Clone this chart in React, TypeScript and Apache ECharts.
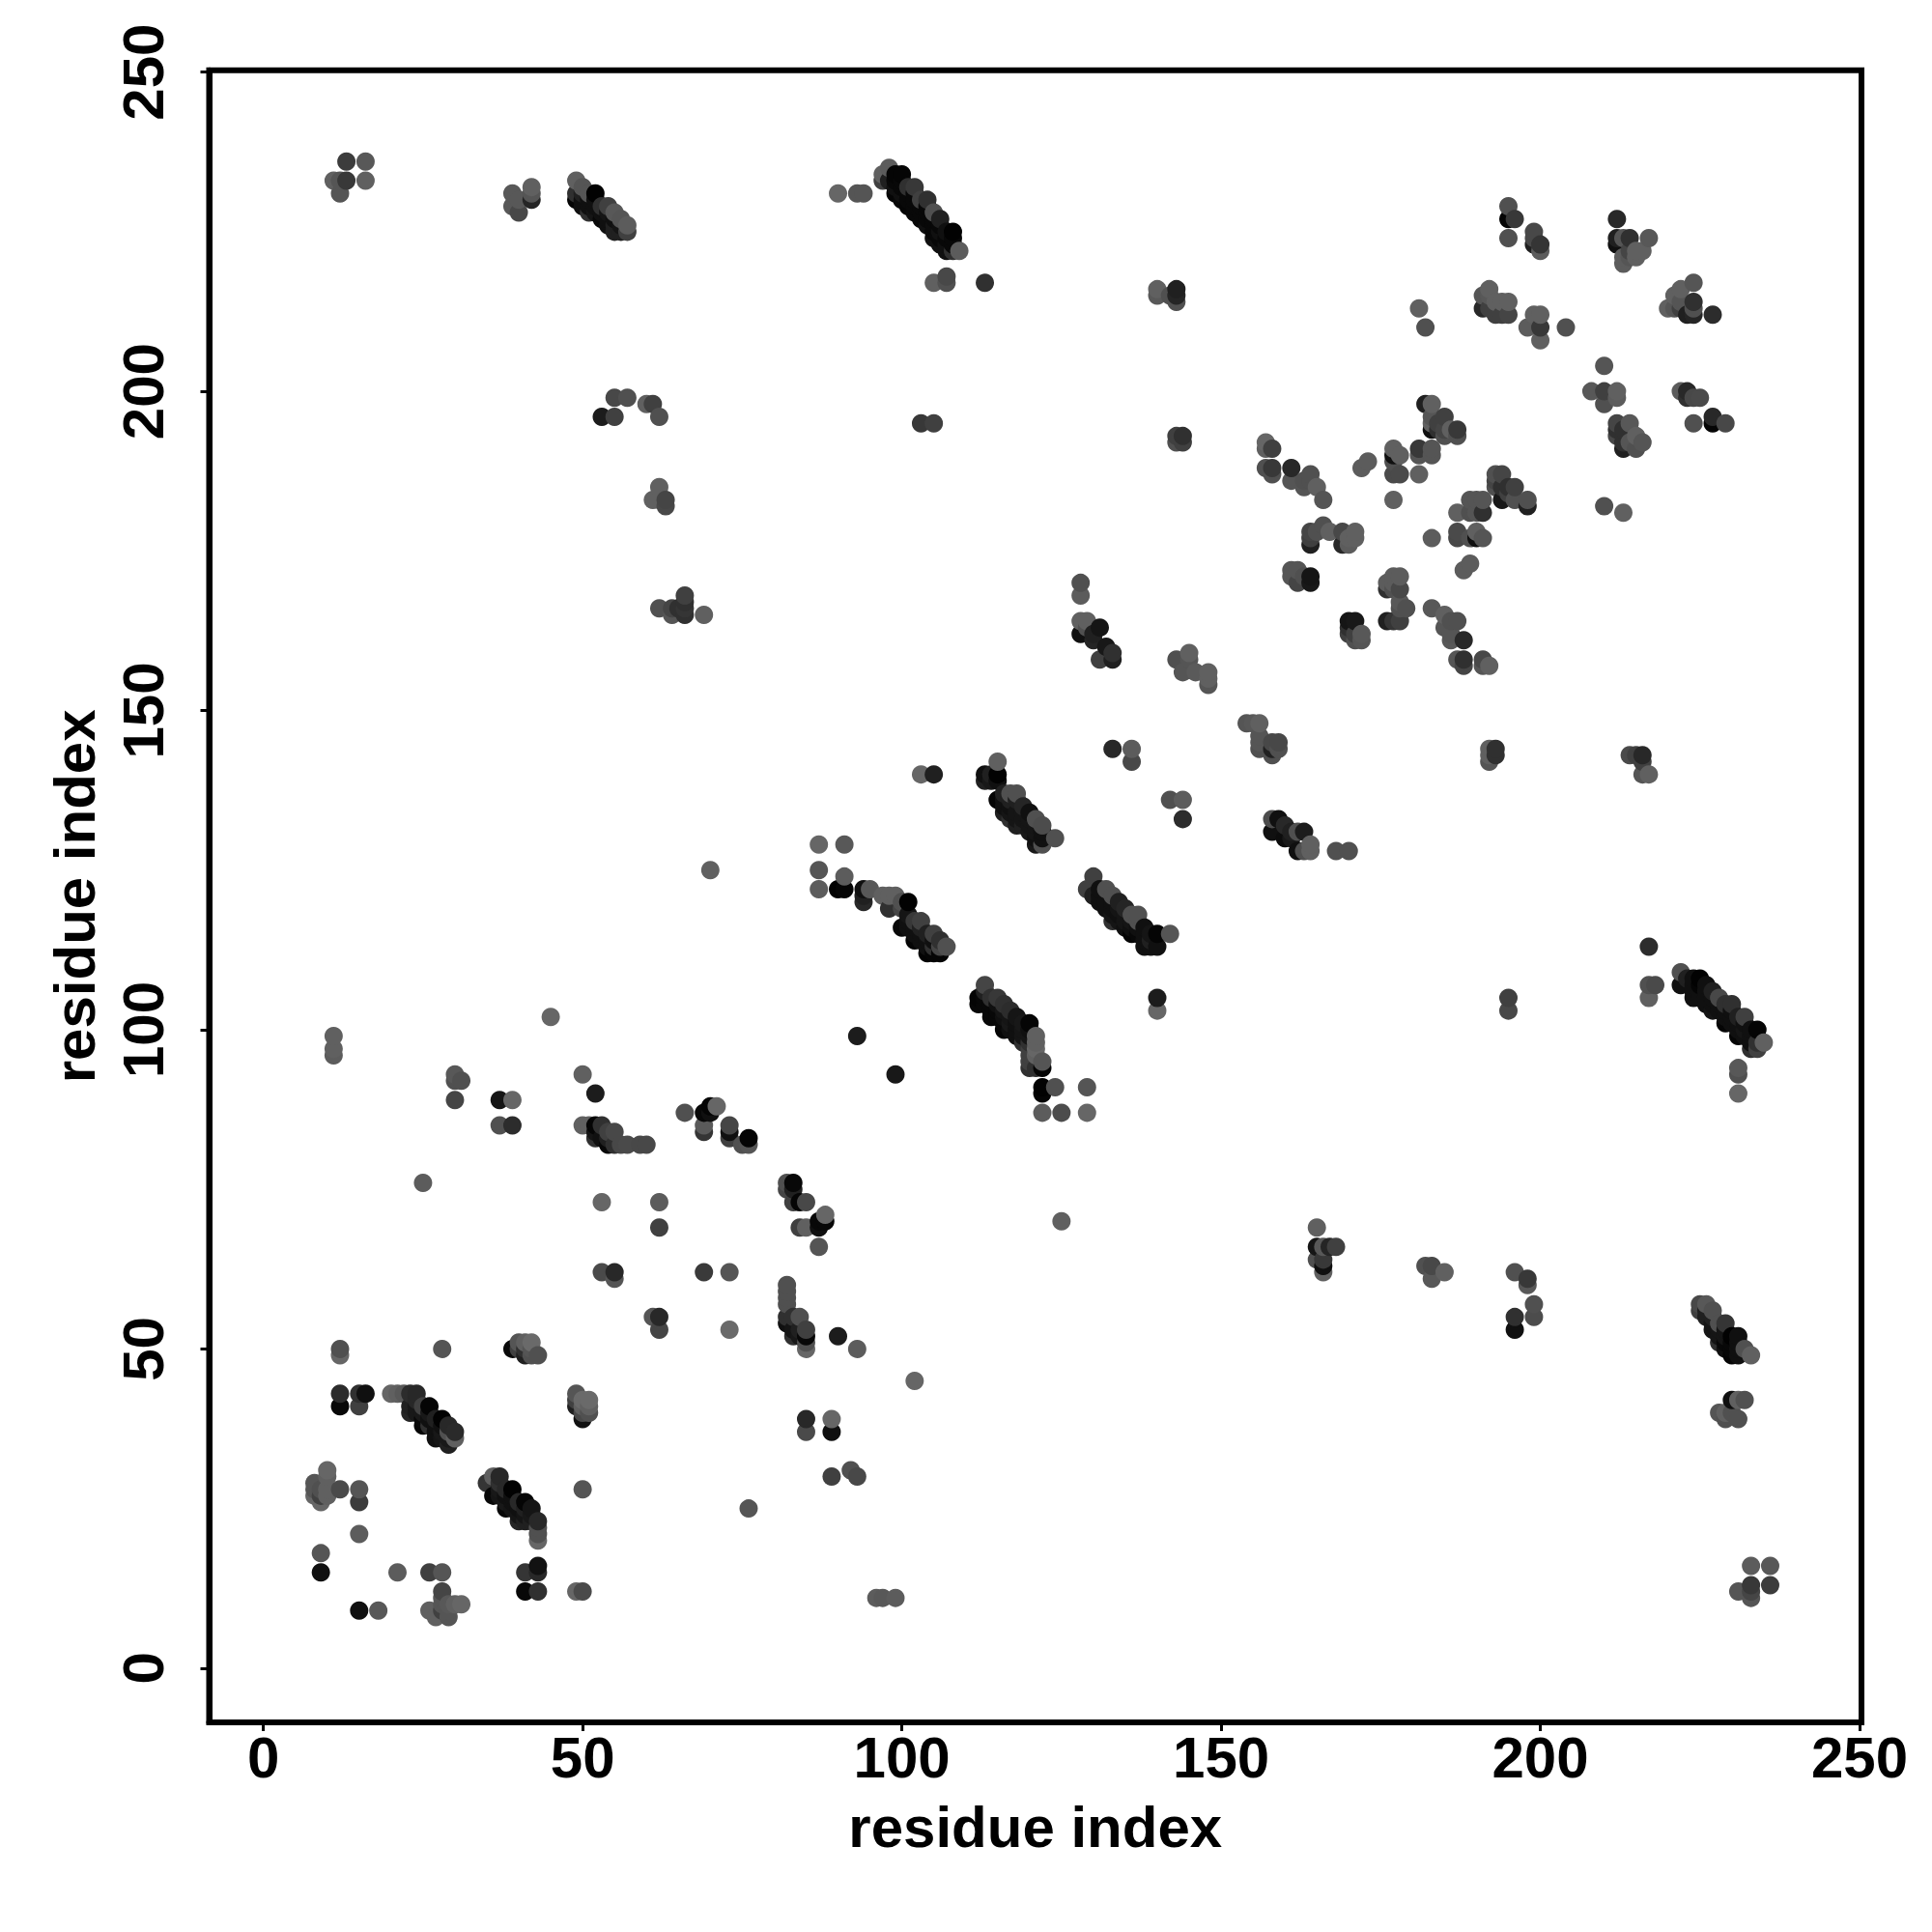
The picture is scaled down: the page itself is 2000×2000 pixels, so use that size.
import React, { useEffect, useRef } from "react";
import * as echarts from "echarts";

type P = [number, number, number];
const tickValues = [0, 50, 100, 150, 200, 250];
const axisTitle = "residue index";

const lowerLeft: P[] = [
[53,62,0x4a],[55,62,0x28],[55,61,0x55],[69,62,0x3a],[73,62,0x55],[61,55,0x55],[62,55,0x28],[62,53,0x45],[73,53,0x6a],
[12,50,0x50],[12,49,0x66],[28,50,0x55],[39,50,0x0a],[40,51,0x55],[41,51,0x60],[42,51,0x6a],[41,49,0x20],[43,49,0x50],[42,49,0x50],[40,50,0x40],[41,50,0x30],[42,50,0x55],
[12,43,0x2c],[15,43,0x30],[16,43,0x10],[12,41,0x08],[15,41,0x40],[20,43,0x66],[21,43,0x60],[22,43,0x58],[23,43,0x2c],[24,43,0x28],
[23,41,0x20],[23,40,0x25],[25,41,0x40],[26,41,0x05],[25,38,0x05],[27,39,0x20],[28,39,0x02],[27,36,0x10],[29,35,0x20],[30,37,0x2a],[30,36,0x60],[29,37,0x50],[24,40,0x18],[26,39,0x10],[26,38,0x30],[28,37,0x18],[28,36,0x15],[29,36,0x18],
[49,43,0x55],[49,41,0x20],[50,39,0x10],[50,42,0x6a],[51,42,0x6a],[51,40,0x50],[50,40,0x48],[49,42,0x40],[51,41,0x60],[50,41,0x60],
[10,31,0x66],[8,29,0x55],[10,30,0x60],[8,27,0x66],[9,26,0x66],[9,28,0x50],[12,28,0x4a],[10,28,0x60],[15,28,0x55],[15,26,0x3c],[8,28,0x55],[9,27,0x40],[10,27,0x60],
[15,21,0x5c],[9,18,0x55],[9,15,0x10],[21,15,0x5c],[26,15,0x40],[28,15,0x55],[28,12,0x45],[15,9,0x10],[18,9,0x58],[26,9,0x60],[27,8,0x60],[29,8,0x55],[30,10,0x60],[31,10,0x66],[28,10,0x55],[29,10,0x58],[28,11,0x55],[28,9,0x40],[29,9,0x55],
[35,29,0x35],[36,30,0x60],[37,30,0x28],[36,27,0x08],[37,29,0x30],[39,28,0x02],[38,28,0x28],[38,25,0x08],[37,27,0x15],[38,26,0x18],[40,26,0x28],[41,26,0x05],[40,23,0x25],[39,25,0x15],[41,23,0x20],[43,23,0x28],[43,22,0x50],[43,21,0x50],[43,20,0x66],[41,25,0x20],
[50,28,0x55],[76,25,0x55],[41,15,0x35],[43,16,0x12],[43,15,0x28],[41,12,0x08],[43,12,0x30],[49,12,0x66],[50,12,0x4a],
[89,30,0x40],[92,31,0x50],[93,30,0x48],[96,11,0x5c],[97,11,0x58],[99,11,0x5c],
];

const lowerMid: P[] = [
[45,102,0x66],[93,99,0x1c],[99,93,0x18],[50,93,0x60],[52,90,0x1c],[39,89,0x66],[37,89,0x15],[39,85,0x2c],[37,85,0x50],
[66,87,0x50],[69,87,0x08],[70,88,0x05],[71,88,0x66],[69,85,0x5a],[69,84,0x35],[73,85,0x45],[73,83,0x40],[73,84,0x10],[75,82,0x50],[76,83,0x05],[76,82,0x55],[70,87,0x10],
[50,85,0x60],[51,85,0x60],[52,85,0x05],[53,85,0x30],[52,83,0x30],[52,84,0x15],[54,84,0x40],[55,84,0x48],[54,82,0x08],[55,82,0x30],[53,83,0x10],[57,82,0x4a],[56,82,0x48],[59,82,0x48],[60,82,0x48],[54,83,0x20],
[82,76,0x50],[83,76,0x08],[82,75,0x45],[83,75,0x20],[83,73,0x40],[84,73,0x05],[85,73,0x48],[53,73,0x66],[62,73,0x5c],[62,69,0x40],
[84,69,0x40],[85,69,0x60],[87,69,0x10],[88,71,0x66],[88,70,0x08],[87,70,0x08],[87,66,0x55],
[82,60,0x50],[82,59,0x50],[82,58,0x50],[82,57,0x50],[82,55,0x30],[82,54,0x10],[84,55,0x50],[83,55,0x30],[83,52,0x30],[85,53,0x40],[85,52,0x08],[85,51,0x50],[85,50,0x66],[84,53,0x20],[83,53,0x15],[84,52,0x18],
[90,52,0x1c],[93,50,0x5c],[102,45,0x66],[85,39,0x28],[85,37,0x4a],[89,39,0x66],[89,37,0x10],
[11,99,0x60],[11,97,0x60],[11,96,0x5c],[25,76,0x5c],[30,93,0x58],[31,92,0x50],[30,89,0x45],[30,92,0x50],
];

const centre: P[] = [
[103,140,0x66],[105,140,0x20],[115,142,0x60],[113,140,0x10],[115,140,0x02],[113,139,0x20],[114,140,0x20],[114,139,0x18],[115,139,0x10],[115,136,0x05],[117,137,0x50],[118,137,0x50],[116,137,0x20],[117,136,0x20],[119,135,0x25],[117,133,0x30],[118,134,0x15],[120,134,0x10],[121,133,0x50],[122,132,0x4c],[119,132,0x20],[120,131,0x18],[121,130,0x10],[122,129,0x50],[124,130,0x50],[122,131,0x10],[122,130,0x10],[116,136,0x10],
[133,144,0x28],[136,144,0x5c],[136,142,0x48],[142,136,0x50],[144,136,0x5c],[144,133,0x2c],
[87,129,0x66],[91,129,0x58],[87,125,0x55],[91,124,0x5c],[87,122,0x5c],[90,122,0x02],[91,122,0x05],
[94,122,0x10],[95,122,0x58],[94,120,0x28],[94,121,0x20],[97,121,0x60],[99,121,0x60],[98,121,0x60],[98,119,0x30],[100,120,0x50],[101,120,0x02],[100,119,0x45],[100,116,0x08],[101,117,0x10],[102,117,0x38],[103,117,0x40],[102,114,0x05],[103,115,0x10],[105,115,0x40],[104,115,0x20],[104,112,0x03],[106,112,0x05],[106,113,0x45],[107,113,0x50],[105,112,0x05],[105,113,0x30],
[130,124,0x40],[129,122,0x40],[131,122,0x10],[132,122,0x50],[133,121,0x50],[130,121,0x20],[131,120,0x10],[132,119,0x10],[133,117,0x30],[135,119,0x25],[134,118,0x10],[136,118,0x50],[137,118,0x50],[137,117,0x50],[136,115,0x05],[137,115,0x08],[135,117,0x15],[135,116,0x10],[139,113,0x10],[140,113,0x10],[139,114,0x20],[140,115,0x05],[142,115,0x55],
[140,105,0x1c],[140,103,0x66],
[113,107,0x45],[112,105,0x05],[112,104,0x08],[114,103,0x08],[115,105,0x38],[114,105,0x30],[114,102,0x08],[116,100,0x05],[117,103,0x2c],[117,101,0x18],[117,100,0x10],[116,102,0x10],[119,98,0x30],[120,101,0x05],[121,99,0x60],[121,98,0x60],[121,97,0x66],[121,96,0x60],[122,95,0x55],[120,94,0x30],[122,94,0x05],[121,94,0x30],[122,91,0x02],[122,90,0x05],[124,91,0x50],[129,91,0x55],[122,87,0x5c],[125,87,0x4c],[129,87,0x66],[125,70,0x60],[70,125,0x60],
];

const upperCluster: P[] = [
[157,192,0x66],[157,191,0x60],[158,191,0x40],[157,188,0x50],[158,188,0x38],[158,187,0x50],[161,188,0x28],[161,186,0x55],[164,187,0x50],[163,186,0x50],[163,185,0x55],[165,185,0x60],[166,183,0x55],[164,186,0x50],
[173,189,0x5c],[172,188,0x5c],[177,191,0x60],[178,190,0x60],[177,190,0x10],[177,189,0x50],[177,187,0x4a],[178,187,0x4a],[181,187,0x60],[177,183,0x60],[181,191,0x38],[181,190,0x55],[183,190,0x55],[183,191,0x55],
[182,198,0x20],[183,198,0x60],[183,196,0x55],[185,196,0x40],[183,194,0x10],[185,194,0x45],[186,194,0x60],[187,194,0x38],[187,193,0x50],[185,193,0x50],[184,195,0x40],[183,195,0x60],[184,194,0x30],
[164,178,0x45],[164,177,0x40],[164,176,0x20],[166,179,0x50],[165,178,0x50],[167,178,0x60],[169,178,0x48],[169,176,0x28],[170,176,0x5c],[171,178,0x60],[171,177,0x60],[170,177,0x60],
[161,172,0x55],[162,172,0x55],[161,171,0x55],[162,170,0x45],[164,171,0x15],[164,170,0x18],[163,171,0x50],
[183,177,0x5c],[187,178,0x4a],[187,177,0x48],[190,178,0x60],[191,177,0x55],[190,177,0x10],[189,177,0x50],[187,181,0x60],[190,181,0x55],[191,181,0x30],[190,183,0x55],[191,183,0x55],[189,183,0x55],[189,181,0x50],
[194,187,0x45],[193,187,0x50],[193,185,0x50],[194,183,0x18],[195,185,0x30],[196,185,0x40],[196,183,0x50],[198,183,0x50],[198,182,0x20],[193,186,0x45],[194,185,0x30],[195,184,0x40],
[189,173,0x5c],[188,172,0x5c],[177,171,0x5c],[178,171,0x5c],[176,170,0x5c],[176,169,0x30],[178,169,0x48],[178,167,0x58],[179,166,0x50],[178,166,0x50],[176,164,0x20],[177,164,0x35],[178,164,0x40],[177,170,0x5c],[177,169,0x50],
[170,164,0x15],[171,164,0x18],[170,163,0x30],[170,162,0x40],[171,162,0x40],[172,162,0x58],[172,161,0x55],[171,161,0x50],
[183,166,0x58],[185,165,0x60],[185,163,0x55],[186,164,0x50],[187,164,0x50],[186,162,0x55],[186,161,0x58],[188,161,0x28],[187,158,0x55],[188,158,0x30],[188,157,0x45],[191,158,0x48],[192,157,0x60],[191,157,0x55],
[210,182,0x50],[213,181,0x60],
[148,156,0x60],[148,154,0x55],[148,155,0x60],[143,158,0x50],[145,159,0x60],[144,156,0x55],[145,158,0x55],[146,156,0x5a],
[154,148,0x55],[155,148,0x58],[156,148,0x60],[156,146,0x55],[156,144,0x50],[158,145,0x48],[159,145,0x48],[159,144,0x50],[158,144,0x20],[158,143,0x50],[156,145,0x55],
[192,144,0x60],[192,143,0x60],[192,142,0x55],[193,144,0x30],[193,143,0x30],[214,143,0x4a],[216,143,0x28],[215,143,0x40],[216,142,0x40],[216,140,0x55],[217,140,0x60],
[158,133,0x4c],[159,133,0x10],[158,131,0x10],[160,132,0x28],[160,130,0x0c],[163,131,0x1c],[162,131,0x50],[161,131,0x20],[162,128,0x10],[163,128,0x50],[164,129,0x60],[164,128,0x60],[161,130,0x18],[168,128,0x50],[170,128,0x50],
[128,170,0x50],[128,168,0x5c],[128,164,0x60],[129,164,0x60],[128,162,0x10],[131,163,0x15],[130,161,0x25],[132,160,0x18],[131,158,0x40],[133,158,0x20],[133,159,0x30],[129,163,0x50],[130,162,0x20],
[62,166,0x50],[64,166,0x45],[64,165,0x55],[66,166,0x35],[66,168,0x40],[66,167,0x30],[66,165,0x30],[65,166,0x30],[69,165,0x60],
[140,216,0x60],[140,215,0x58],[143,216,0x20],[143,215,0x25],[143,214,0x50],[142,215,0x50],[144,193,0x30],[144,192,0x40],[143,192,0x50],[143,193,0x40],
];

const upperRight: P[] = [
[195,229,0x50],[195,227,0x05],[196,227,0x38],[195,224,0x50],[199,225,0x48],[199,224,0x48],[200,223,0x35],[200,222,0x5c],[199,223,0x20],
[212,227,0x28],[212,224,0x20],[212,223,0x10],[213,224,0x55],[214,224,0x30],[217,224,0x58],[213,221,0x5c],[213,220,0x5c],[214,222,0x45],[215,222,0x60],[216,222,0x60],[215,221,0x60],[214,221,0x55],
[224,217,0x55],[222,216,0x60],[221,215,0x60],[220,213,0x60],[221,213,0x55],[224,214,0x30],[224,213,0x50],[223,212,0x20],[224,212,0x25],[227,212,0x2c],[222,214,0x55],[222,213,0x40],
[192,216,0x60],[191,215,0x55],[192,215,0x58],[191,213,0x28],[193,214,0x60],[194,214,0x60],[195,214,0x60],[193,212,0x40],[194,212,0x40],[195,212,0x45],[192,213,0x40],
[199,212,0x60],[200,212,0x60],[200,210,0x38],[198,210,0x5c],[200,208,0x60],[204,210,0x50],[181,213,0x60],[182,210,0x50],
[210,204,0x55],[208,200,0x58],[210,200,0x40],[212,200,0x60],[210,198,0x50],[212,199,0x5c],
[222,200,0x5c],[223,200,0x28],[223,199,0x30],[224,199,0x48],[225,199,0x4a],[224,195,0x50],[227,196,0x28],[227,195,0x05],[229,195,0x48],
[212,195,0x45],[212,194,0x30],[212,193,0x48],[214,195,0x58],[213,192,0x30],[213,191,0x20],[215,193,0x60],[215,191,0x50],[216,192,0x55],[213,194,0x30],[214,192,0x55],
[13,236,0x3c],[16,236,0x58],[11,233,0x60],[12,233,0x55],[13,233,0x38],[16,233,0x60],[12,231,0x55],
[42,232,0x60],[42,231,0x55],[42,230,0x25],[39,231,0x58],[40,230,0x58],[39,229,0x58],[40,228,0x48],
[49,233,0x60],[50,232,0x55],[51,231,0x55],[49,231,0x30],[49,230,0x05],[52,231,0x02],[52,230,0x10],[51,228,0x30],[53,229,0x30],[54,229,0x40],[55,228,0x58],[53,227,0x08],[54,226,0x10],[56,227,0x55],[57,226,0x5c],[56,225,0x20],[57,225,0x40],[55,226,0x20],
[90,231,0x66],[93,231,0x55],[94,231,0x55],
[98,235,0x5c],[97,234,0x60],[97,233,0x40],[99,234,0x05],[100,234,0x05],[98,233,0x20],[99,231,0x05],[99,232,0x10],[102,232,0x38],[101,232,0x30],[101,229,0x05],[100,231,0x10],[104,230,0x30],[103,230,0x40],[105,228,0x50],[103,227,0x08],[106,227,0x20],[104,226,0x10],[108,225,0x02],[105,224,0x10],[107,225,0x10],[107,222,0x10],[109,222,0x5c],[108,222,0x30],[106,225,0x10],[106,223,0x10],[107,223,0x10],
[105,217,0x60],[107,218,0x48],[107,217,0x50],[113,217,0x30],
[55,199,0x48],[57,199,0x50],[53,196,0x1c],[55,196,0x40],[60,198,0x60],[61,198,0x40],[62,196,0x50],[103,195,0x38],[105,195,0x40],
[62,185,0x60],[61,183,0x60],[63,183,0x45],[63,182,0x48],[62,183,0x60],
];

const lowerRight: P[] = [
[217,113,0x2c],[217,107,0x50],[218,107,0x4a],[217,105,0x60],[195,105,0x40],[195,103,0x48],
[222,109,0x50],[222,107,0x10],[223,108,0x20],[224,105,0x10],[225,108,0x02],[225,107,0x05],[224,108,0x10],[227,106,0x20],[227,103,0x15],[228,105,0x48],[229,104,0x30],[230,104,0x30],[229,101,0x05],[232,102,0x40],[231,102,0x20],[231,99,0x05],[234,100,0x05],[233,97,0x30],[235,98,0x60],[234,98,0x30],[234,97,0x40],[232,100,0x15],[226,107,0x10],[226,105,0x10],[228,103,0x10],[230,101,0x10],
[231,94,0x58],[231,93,0x50],[231,90,0x66],
[165,69,0x60],[165,66,0x15],[166,66,0x58],[167,66,0x25],[168,66,0x40],[165,64,0x50],[166,64,0x38],[166,63,0x10],[166,62,0x60],
[182,63,0x50],[183,63,0x48],[185,62,0x60],[183,61,0x58],[196,62,0x50],[198,61,0x38],[198,60,0x58],[199,57,0x50],[199,55,0x4c],[196,55,0x30],[196,53,0x10],
[225,57,0x48],[226,57,0x58],[227,56,0x50],[225,56,0x40],[226,55,0x20],[227,53,0x15],[228,54,0x50],[229,54,0x35],[228,51,0x30],[230,52,0x02],[231,52,0x10],[230,49,0x05],[231,49,0x10],[232,50,0x50],[233,49,0x60],[229,52,0x15],[229,50,0x10],
[230,42,0x10],[231,42,0x60],[232,42,0x50],[228,40,0x55],[229,39,0x50],[230,40,0x50],[231,39,0x50],[229,40,0x60],
[233,16,0x5c],[236,16,0x58],[231,12,0x55],[233,13,0x38],[236,13,0x3c],[233,11,0x55],[233,12,0x45],
];

// Points hidden inside the dark diagonal bands, read as the bands' solid fill.
const bandFill: P[] = [
[24,42,0x28],[24,41,0x18],[25,40,0x18],[25,39,0x08],[26,40,0x18],[27,38,0x10],[27,37,0x10],[28,38,0x10],[29,36,0x18],[29,38,0x28],
[37,28,0x18],[38,27,0x10],[39,27,0x10],[39,26,0x10],[40,25,0x10],[40,24,0x15],[41,24,0x15],[42,25,0x15],[42,24,0x18],[42,23,0x20],
[101,118,0x15],[101,116,0x10],[102,116,0x10],[102,115,0x10],[103,116,0x20],[103,114,0x10],[104,114,0x10],[104,113,0x10],[105,114,0x10],[106,114,0x30],
[116,135,0x10],[116,134,0x20],[117,135,0x10],[117,134,0x15],[118,136,0x20],[118,133,0x15],[118,132,0x20],[119,134,0x15],[119,133,0x15],[120,133,0x15],[120,132,0x15],[121,132,0x15],[121,131,0x15],[121,129,0x18],
[131,121,0x10],[132,120,0x10],[133,120,0x10],[133,119,0x10],[133,118,0x15],[134,120,0x20],[134,119,0x15],[134,117,0x15],[135,118,0x15],[136,117,0x15],[136,116,0x10],[137,116,0x10],[138,116,0x10],[138,115,0x10],[138,114,0x10],[138,113,0x10],[139,115,0x15],
[113,106,0x20],[113,105,0x08],[113,104,0x08],[114,104,0x08],[115,104,0x10],[115,103,0x08],[115,102,0x08],[116,104,0x30],[116,103,0x15],[116,101,0x08],[117,102,0x15],[118,102,0x15],[118,101,0x10],[118,100,0x10],[118,99,0x10],[119,101,0x18],[119,100,0x15],[119,99,0x15],[120,100,0x10],[120,99,0x15],[120,98,0x30],[120,97,0x40],[120,96,0x40],[120,95,0x40],
[50,231,0x20],[50,230,0x10],[50,229,0x10],[51,230,0x10],[51,229,0x10],[52,229,0x10],[52,228,0x15],[53,228,0x10],[54,228,0x15],[54,227,0x10],[55,227,0x10],[55,225,0x20],[56,226,0x15],
[99,233,0x08],[100,233,0x08],[100,232,0x08],[100,230,0x08],[101,231,0x08],[101,230,0x08],[102,231,0x08],[102,230,0x08],[102,229,0x08],[102,228,0x08],[103,229,0x08],[103,228,0x08],[104,229,0x08],[104,228,0x08],[104,227,0x08],[105,227,0x08],[105,226,0x08],[105,225,0x08],[106,226,0x08],[106,224,0x08],[107,224,0x08],[108,224,0x08],[108,223,0x08],
[224,107,0x10],[224,106,0x10],[225,106,0x10],[225,105,0x10],[226,106,0x10],[226,104,0x10],[227,105,0x10],[227,104,0x10],[228,104,0x10],[229,103,0x10],[229,102,0x10],[230,103,0x10],[230,102,0x10],[231,101,0x10],[231,100,0x10],[232,101,0x10],[232,99,0x10],[233,100,0x10],[233,99,0x10],[233,98,0x10],
[226,56,0x20],[227,55,0x20],[227,54,0x15],[228,53,0x15],[228,52,0x15],[229,53,0x15],[229,51,0x08],[230,51,0x08],[230,50,0x08],[231,51,0x10],[231,50,0x10],
];

const allPoints: P[] = [...lowerLeft, ...lowerMid, ...centre, ...upperCluster, ...upperRight, ...lowerRight, ...bandFill];

export default function App() {
  const ref = useRef<HTMLDivElement>(null);
  useEffect(() => {
    document.body.style.margin = "0";
    const chart = echarts.init(ref.current!, undefined, { renderer: "svg" });
    const seen = new Set<string>();
    const pts = allPoints
      .filter((p) => {
        const k = p[0] + "," + p[1];
        if (seen.has(k)) return false;
        seen.add(k);
        return true;
      })
      .sort((a, b) => a[0] - b[0] || a[1] - b[1]);
    const font = { fontFamily: "Liberation Sans", fontWeight: "bold" as const, fontSize: 60, color: "#000" };
    const axisBase = {
      type: "value" as const,
      min: -8.5,
      max: 250.3,
      name: axisTitle,
      nameLocation: "middle" as const,
      nameTextStyle: font,
      splitLine: { show: false },
      axisLine: { show: true, onZero: false, lineStyle: { color: "#000", width: 6 } },
      axisTick: { show: true, length: 9, lineStyle: { color: "#000", width: 3 }, customValues: tickValues },
    };
    chart.setOption({
      animation: false,
      backgroundColor: "#fff",
      grid: {
        left: 216.5,
        right: 73,
        top: 72.7,
        bottom: 217,
        show: true,
        borderColor: "#000",
        borderWidth: 6,
        backgroundColor: "transparent",
      },
      xAxis: {
        ...axisBase,
        nameGap: 78,
        axisLabel: { ...font, margin: 6, customValues: tickValues, hideOverlap: false },
      },
      yAxis: {
        ...axisBase,
        nameGap: 109,
        axisLabel: { ...font, margin: 38, rotate: 90, customValues: tickValues, hideOverlap: false },
      },
      series: [
        {
          type: "scatter",
          symbol: "circle",
          symbolSize: 19,
          data: pts.map((p) => ({
            value: [p[0], p[1]],
            itemStyle: { color: `rgb(${p[2]},${p[2]},${p[2]})`, opacity: 1 },
          })),
          clip: false,
        },
      ],
    });
    return () => chart.dispose();
  }, []);
  return <div ref={ref} style={{ width: 2000, height: 2000 }} />;
}
